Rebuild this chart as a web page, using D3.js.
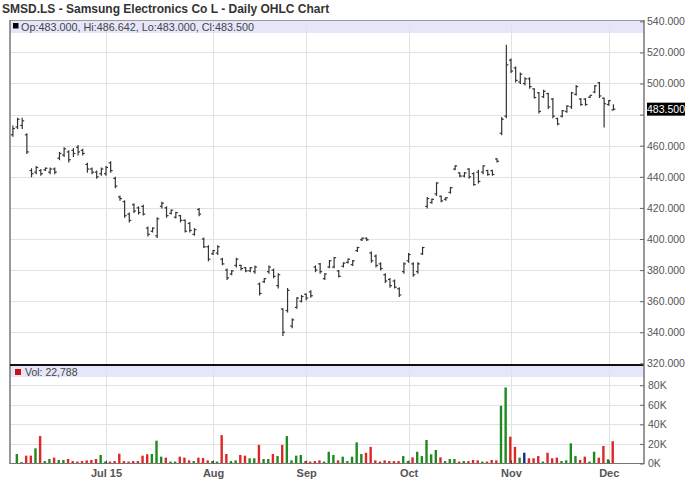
<!DOCTYPE html>
<html><head><meta charset="utf-8">
<script src="https://cdn.jsdelivr.net/npm/d3@7/dist/d3.min.js"></script>
<style>body{margin:0;background:#fff;} svg{display:block;font-family:"Liberation Sans",Arial,sans-serif;}</style>
</head><body><svg id="c" width="688" height="503"></svg>
<script>
// ---- data ----
const tradingStart = "2015-06-03", tradingEnd = "2015-12-02";
const holidays = ["2015-08-31"];
const highs = [473,478,478,468,445.5,447,445,446,446,446,456,459,457,458.5,460.5,458,449,446,444,446,
 447,450,440,428,425,417,423,421,422,408,407.5,414,424,421,419,417.5,415.5,412.5,411,407,
 420,401,396,393,396,388,381,380,388,383.5,382,382,383,372,375,383,381,378,355.5,368.5,
 349,362.5,364,365,367,383,384.5,378,386.5,388.5,380,385,387.5,386.5,395,401,401,392,390,385,
 378,375,374,369,385,391,385,385,395,427,426,436.5,428,427,433.5,447.5,443,443,445.5,443,
 444.5,447.5,444.5,444.5,452,478.5,525,516,511,507,504,504,497,494.6,496,494,490.6,478,483,486,
 494.6,499,490.6,490.6,492.6,499,501,491,489.4,486.642];
const lows = [466,471,471,455,440,442,441,444,442,442,451,453,449.5,453,454,454,443,442,439,441,
 441,443,433,425,414,411,417,416,415.5,402,404.5,401,420,414,416,413.5,411,404.5,404.5,402.5,
 415,394.5,386,390,390,383.5,374,377,382,380,379,379,378,364,372,378,375,368.5,338,353,
 343,355.5,359.5,361,362.5,379,378,374,381.5,381.5,375.5,382,384.5,383,392,399,399,385,382,380,
 372,369,368.5,363,378,385,376,378,390,420,423,428,424,425,429.5,444.5,440,440,439,434.5,
 436,442,441,441,449.5,467,478,507,501,500,499,497,490.6,481,491,484,478,473.4,478.5,481.5,
 484,492.6,486,486,491,494,491,472,486,483];
const opens = [467,472,473,467,444,443,444,444.5,443,445,452,454,456,457,459,457,448,445,443,442,
 442,449,439,427,424,416,422,420,421,407,405,402,421,420,416.5,414,415,412,410,403,
 419,400,395,390.5,391,387,380,377.5,383,383,381.5,379.5,379,371,372.5,379,380,370,355,354,
 344,356,360,364.5,366,382,384,374.5,382,382,379.5,382.5,385,383.5,392.5,399.5,400.5,391,389,384,
 377,374,373,368,379,386,384,379,390.5,421,423.5,429,427.5,425.5,430,445,442.5,440.5,445,442,
 443,443,444,444,451.5,468,479,515,510,501,500,503,496.5,494,491.5,493.5,490,477.5,479,482,
 485,493,490,490,491.2,494.5,500.5,490.5,486.5,483];
const closes = [471,477,476,456,442,446,442,445.5,445,443,455,458,451,455,456,455,445,443,440,445,
 446,444,434,426,415,412,418,417,416,403,407,413,423,415,418.5,417,412,405,405.5,406,
 416,395,387,392.5,395,384,375,379.5,387,381,379.5,381.5,382,365,374.5,382,376,377,340,367,
 348,362,363,362,363.5,380,379,377.5,386,388,376,384.5,387,386,394.5,400.5,399.5,386,383,381,
 373,370,369,364,384,390,377,384,394.5,426,425.5,436,424.5,426.5,433,447,440.5,442.5,440,435,
 437,447,441.5,441.5,450,477,512,508,502,506,503,498,491,482,495,485,479,474,482.5,485.5,
 494,498,486.5,486.5,492.4,498.5,492,487,489,483.5];
const volumes = [500,9700,1500,8000,8000,15500,28000,2500,4600,6000,3600,3600,4600,2500,2000,2500,3200,3600,4600,8700,
 2000,2000,2500,10000,2500,2000,2500,2500,8000,9400,9700,23300,7000,6000,2000,2000,7000,6000,3200,2500,
 6000,5600,3200,2500,2000,29000,9700,2500,3200,8700,8000,5300,5300,19000,4600,4600,9700,7600,19000,28000,
 3200,8000,8700,2500,2000,2500,3200,2000,12000,8700,3200,7000,2500,7000,21600,9700,11000,17000,3200,2000,
 3200,2500,2500,2500,7600,2500,6300,12000,7600,24000,9400,13800,6300,2500,4600,4600,2000,2500,2500,3600,
 3200,2000,2000,3600,3200,59000,77700,27400,17000,6000,11000,5300,5300,7600,2000,11000,5300,6000,2500,3200,
 20600,7600,3600,7000,2000,12000,6000,17900,4300,22788];
// G = up, R = down, B = unchanged (one code per trading day, 10 per group)
const volDir = ("GGGRRGRGGR"+"GGRRRRRRRG"+"GRRRRRRRRR"+"GGGRGGRRRG"+"RRRGGRRGGR"+
                "RGGRGGRGRG"+"GGGRRRRGGG"+"RGGGGGRRRR"+"RRRRGGRGGG"+"GGRGGGRGRR"+
                "RGRRRGGRRG"+"BRRRGRRRGG"+"GGRRGGRRGR").split("");
const priceTicks = [320,340,360,380,400,420,440,460,480,500,520,540];
const volTicks = [0,20000,40000,60000,80000];
const volTickLabels = ["0K","20K","40K","60K","80K"];
const monthLabels = ["Jul 15","Aug","Sep","Oct","Nov","Dec"];
const monthNums = [6,7,8,9,10,11];
const titleText = "SMSD.LS - Samsung Electronics Co L - Daily OHLC Chart";
const priceLegend = "Op:483.000, Hi:486.642, Lo:483.000, Cl:483.500";
const volLegend = "Vol: 22,788";
const lastPrice = 483.5;
const lastPriceLabel = "483.500";

// ---- trading calendar ----
const parse = d3.timeParse("%Y-%m-%d"), fmt = d3.timeFormat("%Y-%m-%d");
const dates = d3.timeDay.range(parse(tradingStart), d3.timeDay.offset(parse(tradingEnd),1))
  .filter(d => d.getDay()!==0 && d.getDay()!==6 && !holidays.includes(fmt(d)));
const data = dates.map((d,i)=>({i, date:d, o:opens[i], h:highs[i], l:lows[i], c:closes[i], v:volumes[i], dir:volDir[i]}));

// ---- layout ----
const L = 10, R = 644;
const svg = d3.select("#c");
const x = d3.scaleLinear().domain([-0.623, 135.57]).range([L, R]);
const y = d3.scaleLinear().domain([320, 540]).range([363.4, 21.3]);
const yv = d3.scaleLinear().domain([0, 80000]).range([463.5, 385.2]);

const monthIdx = monthNums.map(m => data.find(d => d.date.getMonth()===m).i);

// bands
svg.append("rect").attr("x",L).attr("y",20).attr("width",R-L).attr("height",13).attr("fill","#e6e6fa");
svg.append("rect").attr("x",L).attr("y",366).attr("width",R-L).attr("height",11).attr("fill","#e6e6fa");

// grids
const grid = svg.append("g").attr("stroke","#e2e2e2").attr("stroke-width",1);
priceTicks.filter(t=>t>320 && t<540).forEach(t=>{
  grid.append("line").attr("x1",L).attr("x2",R).attr("y1",Math.round(y(t))+0.5).attr("y2",Math.round(y(t))+0.5);
});
volTicks.filter(t=>t>0).forEach(t=>{
  grid.append("line").attr("x1",L).attr("x2",R).attr("y1",Math.round(yv(t))+0.5).attr("y2",Math.round(yv(t))+0.5);
});
monthIdx.forEach(i=>{
  const xx = Math.round(x(i))+0.5;
  grid.append("line").attr("x1",xx).attr("x2",xx).attr("y1",20).attr("y2",364);
  grid.append("line").attr("x1",xx).attr("x2",xx).attr("y1",366).attr("y2",463);
});

// OHLC bars
const bars = svg.append("g").attr("stroke","#333").attr("stroke-width",1.2);
data.forEach(d=>{
  const xx = x(d.i);
  bars.append("line").attr("x1",xx).attr("x2",xx).attr("y1",y(d.h)).attr("y2",y(d.l)+0.5);
  bars.append("line").attr("x1",xx-2).attr("x2",xx).attr("y1",y(d.o)).attr("y2",y(d.o));
  bars.append("line").attr("x1",xx).attr("x2",xx+2).attr("y1",y(d.c)).attr("y2",y(d.c));
});

// volume bars
const col = {G:"#1f8a1f", R:"#e02626", B:"#1c2a8c"};
svg.append("g").selectAll("rect").data(data).join("rect")
  .attr("x", d=>x(d.i)-1.9).attr("width",2.4)
  .attr("y", d=>yv(d.v)).attr("height", d=>yv(0)-yv(d.v))
  .attr("fill", d=>col[d.dir]);

// frame
svg.append("line").attr("x1",L).attr("x2",R).attr("y1",20.5).attr("y2",20.5).attr("stroke","#999");
svg.append("line").attr("x1",L).attr("x2",L).attr("y1",20).attr("y2",464).attr("stroke","#777").attr("stroke-width",1.5);
svg.append("line").attr("x1",L).attr("x2",R).attr("y1",365).attr("y2",365).attr("stroke","#111").attr("stroke-width",2);
svg.append("line").attr("x1",L).attr("x2",R).attr("y1",463.5).attr("y2",463.5).attr("stroke","#777").attr("stroke-width",1.2);
svg.append("line").attr("x1",R).attr("x2",R).attr("y1",20).attr("y2",464).attr("stroke","#777").attr("stroke-width",1.5);

// right axes (the 480 label is covered by the last-price tag)
const pa = svg.append("g").attr("transform",`translate(${R},0)`)
  .call(d3.axisRight(y).tickValues(priceTicks).tickFormat(d => d===480 ? "" : d3.format(".3f")(d)).tickSizeInner(-4).tickSizeOuter(0).tickPadding(3));
const va = svg.append("g").attr("transform",`translate(${R},0)`)
  .call(d3.axisRight(yv).tickValues(volTicks).tickFormat((d,i)=>volTickLabels[i]).tickSizeInner(-4).tickSizeOuter(0).tickPadding(4));
[pa,va].forEach(a=>{
  a.select(".domain").remove();
  a.selectAll(".tick line").attr("stroke","#666");
  a.selectAll(".tick text").attr("fill","#555").style("font-size","10.5px").style("font-family","Liberation Sans, Arial, sans-serif");
});

// x axis
const xa = svg.append("g").attr("transform",`translate(0,463.5)`)
  .call(d3.axisBottom(x).tickValues(monthIdx).tickFormat((d,i)=>monthLabels[i]).tickSizeInner(-3).tickSizeOuter(0).tickPadding(6));
xa.select(".domain").remove();
xa.selectAll(".tick line").attr("stroke","#444");
xa.selectAll(".tick text").attr("fill","#555").style("font-size","11px").style("font-weight","bold").style("font-family","Liberation Sans, Arial, sans-serif");

// last price tag
svg.append("rect").attr("x",647).attr("y",y(lastPrice)-6.5).attr("width",38).attr("height",13).attr("fill","#000");
svg.append("text").attr("x",666).attr("y",y(lastPrice)+4).attr("text-anchor","middle").attr("fill","#fff")
  .style("font-size","10.5px").text(lastPriceLabel);

// title & legends
svg.append("text").attr("x",2).attr("y",13).attr("fill","#333").style("font-size","12px").style("font-weight","bold").text(titleText);
svg.append("rect").attr("x",13).attr("y",23).attr("width",5.5).attr("height",5.5).attr("fill","#000");
svg.append("text").attr("x",21).attr("y",30.5).attr("fill","#444").style("font-size","10.8px").text(priceLegend);
svg.append("rect").attr("x",15).attr("y",369).attr("width",6).attr("height",6).attr("fill","#cc1111");
svg.append("text").attr("x",25).attr("y",376).attr("fill","#444").style("font-size","10.5px").text(volLegend);
</script></body></html>
